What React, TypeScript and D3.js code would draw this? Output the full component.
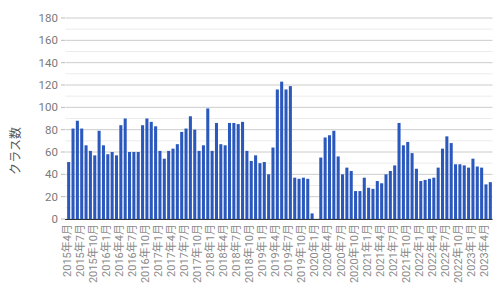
import React from "react";
import * as d3 from "d3";

const startYear = 2015;
const startMonth = 4;
const values: number[] = [
  51, 81, 88, 81, 66, 61, 57, 79, 66, 58, 60, 57,
  84, 90, 60, 60, 60, 84, 90, 87, 83, 61, 54, 61,
  63, 67, 78, 81, 92, 80, 61, 66, 99, 61, 86, 67,
  66, 86, 86, 85, 87, 61, 52, 57, 50, 51, 40, 64,
  116, 123, 116, 119, 37, 36, 37, 36, 5, 0, 55, 73,
  75, 79, 56, 40, 46, 43, 25, 25, 37, 28, 27, 34,
  32, 40, 43, 48, 86, 66, 69, 59, 45, 34, 35, 36,
  37, 46, 63, 74, 68, 49, 49, 48, 46, 54, 47, 46,
  31, 33,
];
const categories: string[] = values.map((_, i) => {
  const m0 = startMonth - 1 + i;
  const y = startYear + Math.floor(m0 / 12);
  const m = (m0 % 12) + 1;
  return `${y}年${m}月`;
});
const yTicks = [0, 20, 40, 60, 80, 100, 120, 140, 160, 180];
const yMinor = [10, 30, 50, 70, 90, 110, 130, 150, 170];
const yTitle = "クラス数";

const W = 500;
const H = 297;
const left = 66.5;
const right = 492.5;
const top = 18;
const bottom = 219;
const font = "Roboto, 'Noto Sans CJK JP', sans-serif";

export default function App() {
  const x = d3
    .scaleBand<string>()
    .domain(categories)
    .range([left, right])
    .paddingInner(0.3)
    .paddingOuter(0.15);
  const y = d3.scaleLinear().domain([0, 180]).range([bottom, top]);
  const labelIdx = categories.map((_, i) => i).filter((i) => i % 3 === 0);

  return (
    <svg
      width={W}
      height={H}
      style={{ position: "absolute", left: 0, top: 0, background: "#fff" }}
      fontFamily={font}
    >
      {yMinor.map((t) => (
        <line key={"m" + t} x1={left - 1} x2={right} y1={y(t)} y2={y(t)} stroke="#ebebeb" strokeWidth={1} />
      ))}
      {yTicks.map((t) => (
        <line key={"g" + t} x1={left - 1} x2={right} y1={y(t)} y2={y(t)} stroke="#cccccc" strokeWidth={1} />
      ))}
      {yTicks.map((t) => (
        <line key={"t" + t} x1={61} x2={65} y1={y(t)} y2={y(t)} stroke="#bbbbbb" strokeWidth={1} />
      ))}
      {yTicks.map((t) => (
        <text key={"l" + t} x={58} y={y(t)} dy="0.35em" textAnchor="end" fontSize={11.5} fill="#7a7a7a">
          {t}
        </text>
      ))}
      {values.map((v, i) => (
        <rect
          key={i}
          x={x(categories[i])}
          width={x.bandwidth()}
          y={y(v)}
          height={bottom - y(v)}
          fill="#2a58bd"
        />
      ))}
      <line x1={left - 1.5} x2={right} y1={bottom + 0.5} y2={bottom + 0.5} stroke="#333" strokeWidth={1} />
      {labelIdx.map((i) => {
        const cx = (x(categories[i]) as number) + x.bandwidth() / 2;
        return (
          <text
            key={"x" + i}
            transform={`translate(${cx + 2},224) rotate(-90)`}
            textAnchor="end"
            fontSize={11}
            fill="#8a8a8a"
          >
            {categories[i]}
          </text>
        );
      })}
      <text
        transform={`translate(20,151) rotate(-90)`}
        textAnchor="middle"
        fontSize={12}
        fill="#555"
      >
        {yTitle}
      </text>
    </svg>
  );
}
